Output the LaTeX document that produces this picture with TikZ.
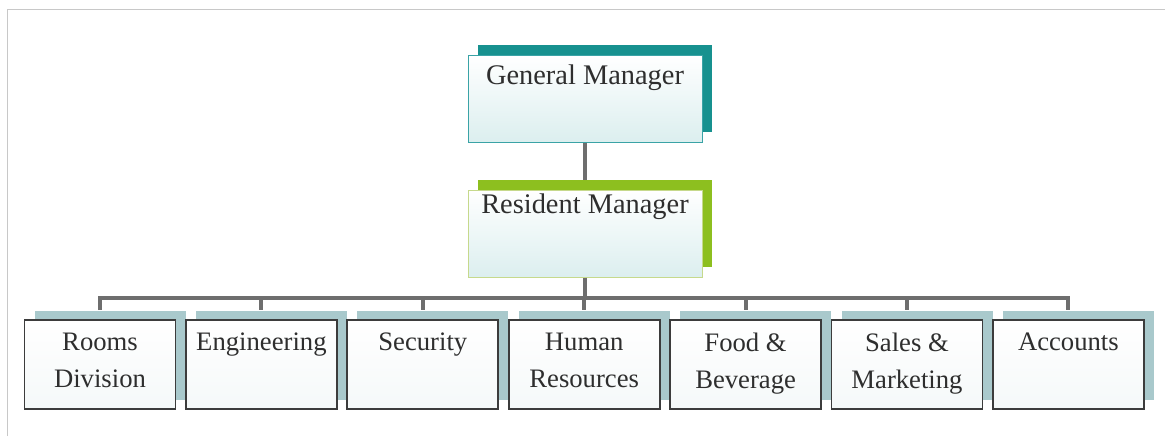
\documentclass[tikz,border=0pt]{standalone}
\usepackage{fontspec}
\setmainfont{Liberation Serif}
\usepackage{tikz}
\usetikzlibrary{calc}

\definecolor{gmback}{HTML}{17918F}
\definecolor{gmline}{HTML}{3AA3A6}
\definecolor{rmback}{HTML}{8DBF1F}
\definecolor{rmline}{HTML}{C6D98C}
\definecolor{deptback}{HTML}{A9C9CC}
\definecolor{deptline}{HTML}{3C3C3C}
\definecolor{connline}{HTML}{6E6E6E}
\definecolor{framegray}{HTML}{C8C8C8}
\definecolor{textgray}{HTML}{2E2E2E}

\tikzset{
  topbox/.style={rectangle, inner sep=0pt, line width=0.75pt,
    minimum width=175.5pt, minimum height=65.25pt,
    top color=white, bottom color=gmline!18},
  deptbox/.style={rectangle, draw=deptline, inner sep=0pt, line width=1.3pt,
    minimum width=113.25pt, minimum height=66.75pt,
    top color=white, bottom color=deptback!12},
  boxtext/.style={anchor=north, inner sep=0pt, align=center, text=textgray,
    font=\fontsize{20}{27.75}\selectfont},
  toptext/.style={boxtext, font=\fontsize{21.3}{26}\selectfont},
  conn/.style={draw=connline, line width=3pt},
}

\begin{document}
\begin{tikzpicture}[x=0.75pt,y=0.75pt,yscale=-1,xscale=1]
\useasboundingbox (0,0) rectangle (1165,436);

%Frame
\draw [framegray, line width=0.75] (7.5,436) -- (7.5,9.5) -- (1165,9.5) ;

%Shape: General Manager
\fill [gmback] (478,45) rectangle (712,132) ;
\node [topbox, draw=gmline] (gm) at (585,98.5) {} ;
% Text Node
\node [toptext] (gmtext) at (585,65) {General Manager} ;

%Shape: Resident Manager
\fill [rmback] (478,180) rectangle (712,267) ;
\node [topbox, draw=rmline] (rm) at (585,233.5) {} ;
% Text Node
\node [toptext] (rmtext) at (585,194) {Resident Manager} ;

%Shape: departments
\foreach \name/\txt [count=\i from 0] in {rooms/{Rooms\\Division}, eng/Engineering, sec/Security, hr/{Human\\Resources}, food/{Food \&\\Beverage}, sales/{Sales \&\\Marketing}, acc/Accounts}
{
  \pgfmathsetmacro\cx{100+161.4*\i}
  \fill [deptback] (\cx-65.5,311) rectangle (\cx+85.5,400) ;
  \node [deptbox] (\name) at (\cx,364.5) {} ;
  \node [boxtext] (\name text) at (\cx,333) {\txt} ;
}

%Straight Lines
\coordinate (bus) at (585,298) ;
\draw [conn] (gm.south) -- ($(rm.north)+(0,-10)$) ;
\draw [conn] (rm.south) -- (rm.south |- bus) ;
\draw [conn] ($(rooms.north)+(0,-9)$) -- (rooms.north |- bus) -- (acc.north |- bus) -- ($(acc.north)+(0,-9)$) ;
\foreach \name in {eng, sec, hr, food, sales}
  \draw [conn] (\name.north |- bus) -- ($(\name.north)+(0,-9)$) ;

\end{tikzpicture}
\end{document}
